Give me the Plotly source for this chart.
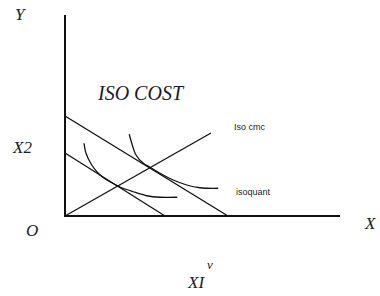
import plotly.graph_objects as go

# Axes extents (chart units)
x_axis_len = 11.0
y_axis_len = 8.04

# Iso-cost (budget) lines: intercepts on Y and X
budget_high = {"y_int": 4.0, "x_int": 6.52}
budget_low = {"y_int": 2.52, "x_int": 4.0}

# Expansion ray from origin
ray_x = [0.0, 5.84]
ray_y = [0.0, 3.32]

# Isoquants
iq_high_x = [2.57, 2.67, 2.84, 3.13, 3.40, 3.80, 4.33, 4.87, 5.40, 6.13]
iq_high_y = [3.27, 2.91, 2.44, 2.11, 1.95, 1.71, 1.44, 1.24, 1.13, 1.11]
iq_low_x = [0.76, 0.84, 1.07, 1.40, 1.80, 2.20, 2.73, 3.27, 3.80, 4.49]
iq_low_y = [2.91, 2.51, 2.04, 1.64, 1.37, 1.16, 0.97, 0.81, 0.75, 0.75]

fig = go.Figure()
line_col = "#111111"

# axes lines
fig.add_trace(go.Scatter(x=[0, 0, x_axis_len], y=[y_axis_len, 0, 0], mode="lines",
                         line=dict(color=line_col, width=2), hoverinfo="skip"))
for b in (budget_high, budget_low):
    fig.add_trace(go.Scatter(x=[0, b["x_int"]], y=[b["y_int"], 0], mode="lines",
                             line=dict(color=line_col, width=1.3), hoverinfo="skip"))
fig.add_trace(go.Scatter(x=ray_x, y=ray_y, mode="lines",
                         line=dict(color=line_col, width=1.3), hoverinfo="skip"))
fig.add_trace(go.Scatter(x=iq_high_x, y=iq_high_y, mode="lines",
                         line=dict(color=line_col, width=1.3, shape="spline"), hoverinfo="skip"))
fig.add_trace(go.Scatter(x=iq_low_x, y=iq_low_y, mode="lines",
                         line=dict(color=line_col, width=1.3, shape="spline"), hoverinfo="skip"))

serif = "Liberation Serif"
txt = "#1a1a2a"
ann = [
    dict(x=-1.8, y=8.08, text="<i>Y</i>", size=17),
    dict(x=3.04, y=4.92, text="<i>ISO COST</i>", size=20),
    dict(x=-1.72, y=2.76, text="<i>X2</i>", size=17),
    dict(x=-1.32, y=-0.56, text="<i>O</i>", size=17),
    dict(x=12.2, y=-0.28, text="<i>X</i>", size=17),
    dict(x=5.24, y=-2.64, text="<i>XI</i>", size=17),
    dict(x=5.8, y=-1.92, text="<i>v</i>", size=13),
]
for a in ann:
    fig.add_annotation(x=a["x"], y=a["y"], text=a["text"], showarrow=False,
                       font=dict(family=serif, size=a["size"], color=txt),
                       xanchor="center", yanchor="middle")
fig.add_annotation(x=7.4, y=3.56, text="Iso cmc", showarrow=False,
                   font=dict(family="Liberation Sans", size=9, color=txt))
fig.add_annotation(x=7.52, y=0.96, text="isoquant", showarrow=False,
                   font=dict(family="Liberation Sans", size=9, color=txt))

fig.update_layout(
    width=380, height=296, margin=dict(l=0, r=0, t=0, b=0),
    paper_bgcolor="white", plot_bgcolor="white", showlegend=False,
    xaxis=dict(range=[-2.6, 12.6], visible=False, fixedrange=True),
    yaxis=dict(range=[-3.2, 8.64], visible=False, fixedrange=True),
)
fig.write_html(
    "out.html",
    config={"displayModeBar": False, "staticPlot": True},
    post_script="document.body.style.margin='0';document.body.style.overflow='hidden';",
)
